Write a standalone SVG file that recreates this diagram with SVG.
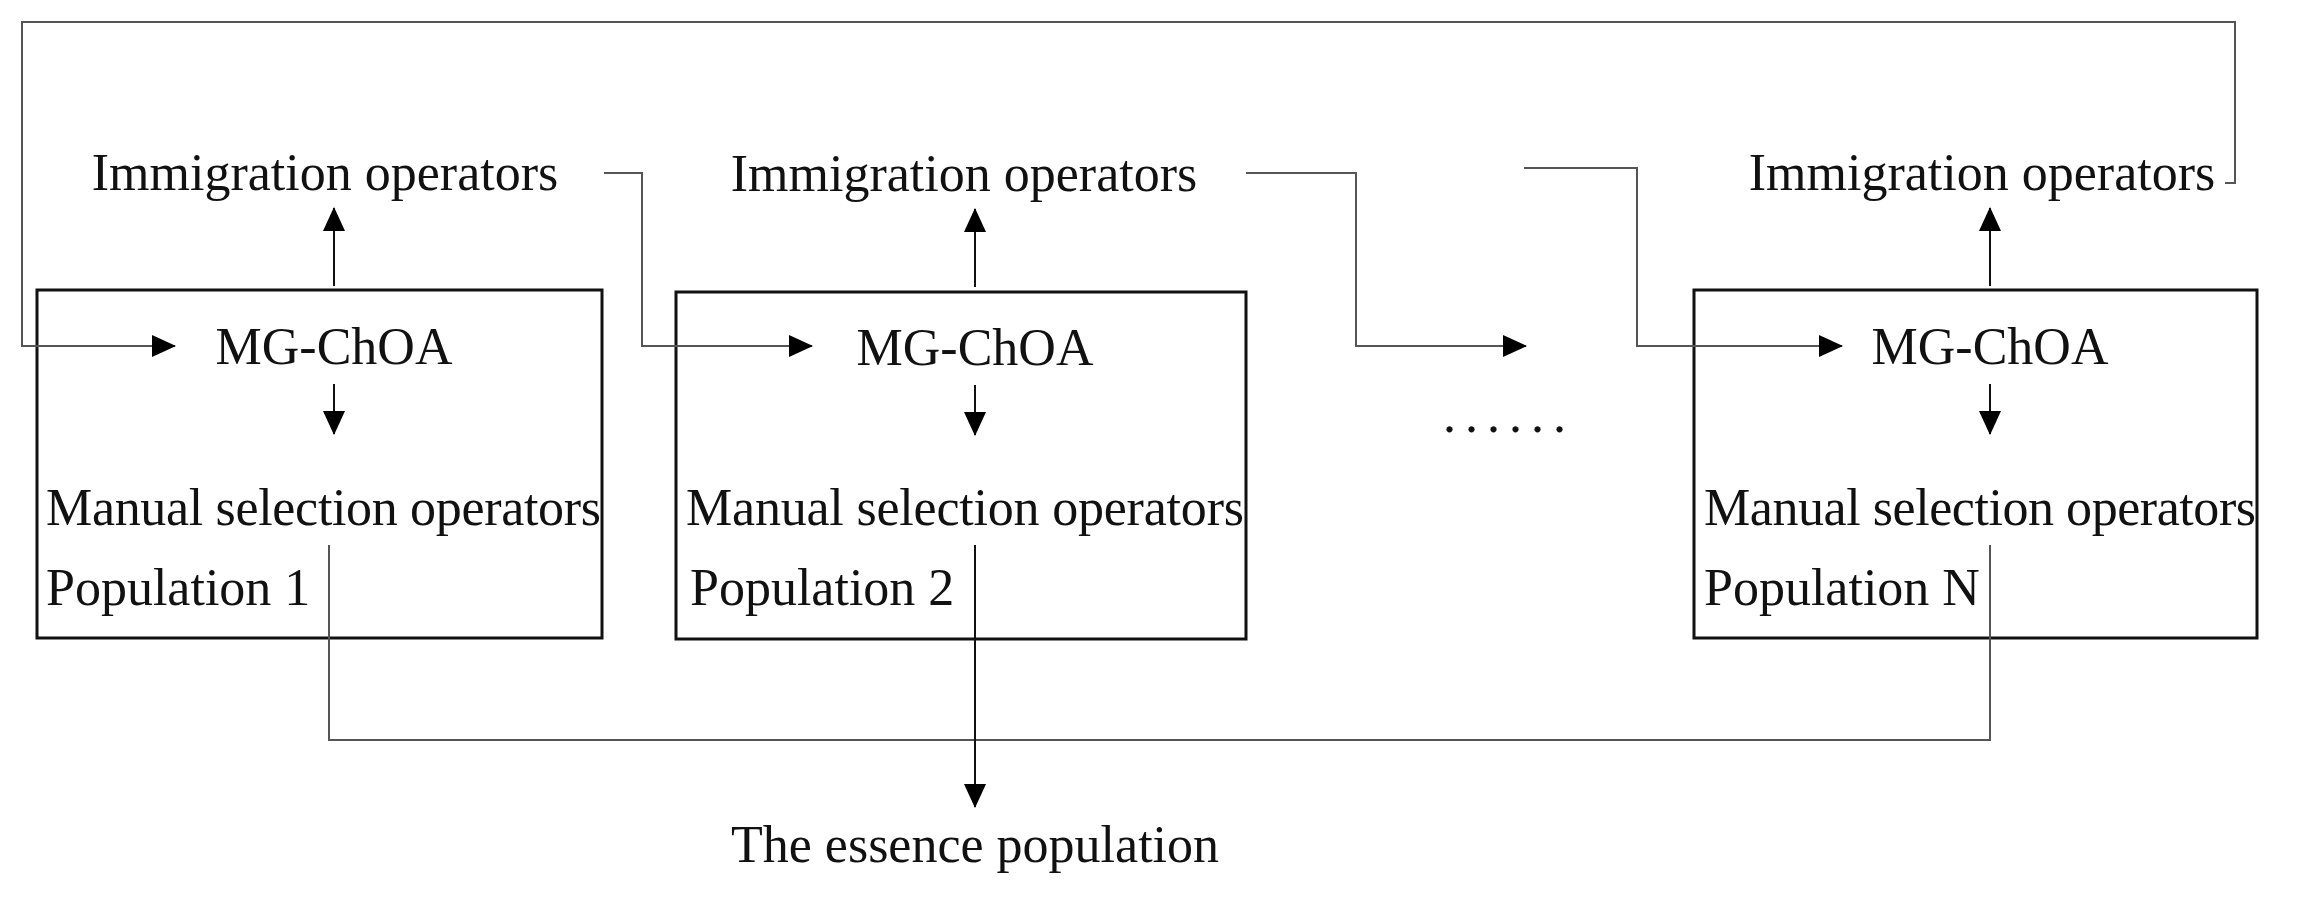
<svg xmlns="http://www.w3.org/2000/svg" width="2298" height="900" viewBox="0 0 2298 900">
<style>
text{font-family:"Liberation Serif","Times New Roman",serif;font-size:52px;fill:#111}
.c{text-anchor:middle}
.box{fill:none;stroke:#111;stroke-width:3}
.ln{fill:none;stroke:#555;stroke-width:2}
.ar{fill:none;stroke:#111;stroke-width:2}
</style>
<defs>
<marker id="b" markerWidth="24" markerHeight="22" refX="23" refY="11" orient="auto" markerUnits="userSpaceOnUse"><path d="M0,0 L24,11 L0,22 z" fill="#000"/></marker></defs>
<rect width="2298" height="900" fill="#fff"/>
<g id="pop1"><rect class="box" x="37" y="290" width="565" height="348"/><text class="c" x="334" y="364">MG-ChOA</text><text x="46" y="525" textLength="555">Manual selection operators</text><text x="46" y="605">Population 1</text></g>
<g id="pop2"><rect class="box" x="676" y="292" width="570" height="347"/><text class="c" x="975" y="365">MG-ChOA</text><text x="686" y="525" textLength="558">Manual selection operators</text><text x="690" y="605">Population 2</text></g>
<g id="popN"><rect class="box" x="1694" y="290" width="563" height="348"/><text class="c" x="1990" y="364">MG-ChOA</text><text x="1704" y="525" textLength="552">Manual selection operators</text><text x="1704" y="605">Population N</text></g>
<g id="imm1"><text class="c" x="325" y="190">Immigration operators</text></g>
<g id="imm2"><text class="c" x="964" y="191">Immigration operators</text></g>
<g id="immN"><text class="c" x="1982" y="190">Immigration operators</text></g>
<g id="dots"><text x="1443" y="432" letter-spacing="9">......</text></g>
<g id="essence"><text class="c" x="975" y="862">The essence population</text></g>
<g id="connectors">
<path class="ar" d="M334,286 V208" marker-end="url(#b)"/>
<path class="ar" d="M975,287 V209" marker-end="url(#b)"/>
<path class="ar" d="M1990,286 V208" marker-end="url(#b)"/>
<path class="ar" d="M334,384 V434" marker-end="url(#b)"/>
<path class="ar" d="M975,385 V435" marker-end="url(#b)"/>
<path class="ar" d="M1990,384 V434" marker-end="url(#b)"/>
<path class="ln" d="M1990,545 V740"/>
<path class="ln" d="M329,545 V740 H1990 V545"/>
<path class="ar" d="M975,545 V807" marker-end="url(#b)"/>
<path class="ln" d="M2225,183 H2235 V22 H22 V346 H175" marker-end="url(#b)"/>
<path class="ln" d="M604,173 H642 V346 H812" marker-end="url(#b)"/>
<path class="ln" d="M1246,173 H1356 V346 H1526" marker-end="url(#b)"/>
<path class="ln" d="M1524,168 H1637 V346 H1842" marker-end="url(#b)"/>
</g>
</svg>
